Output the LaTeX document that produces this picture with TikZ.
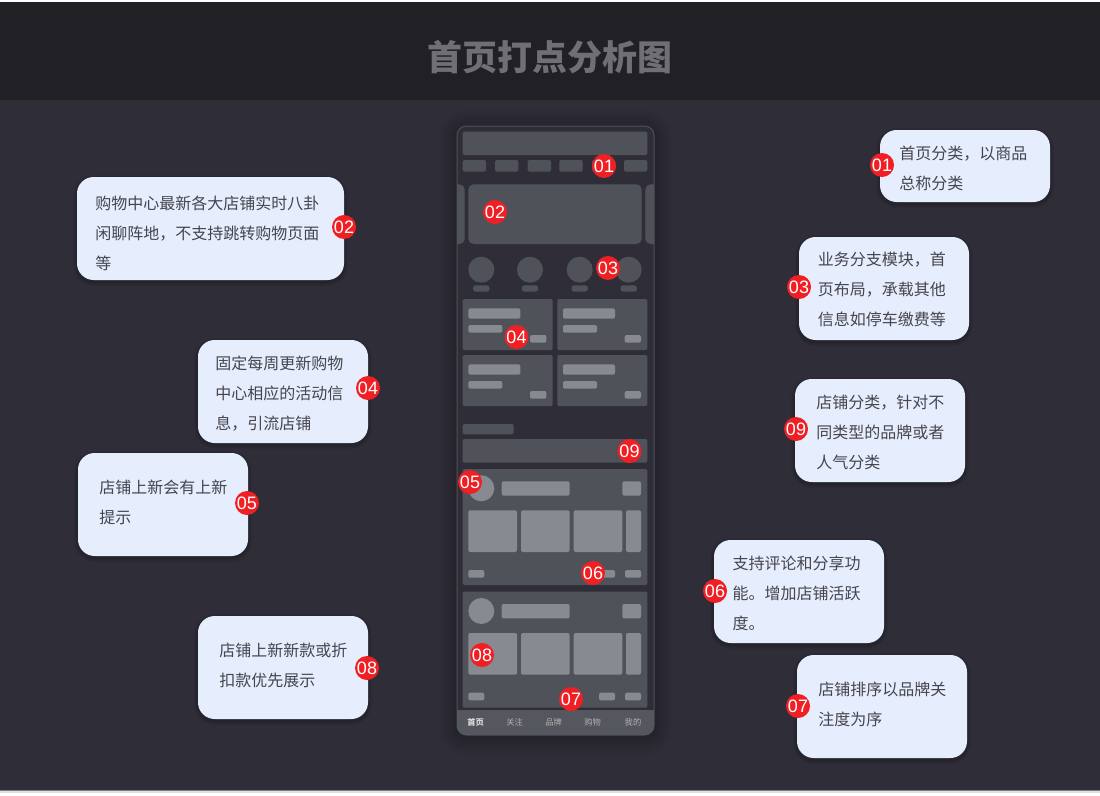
\documentclass[tikz,border=0pt]{standalone}
\usepackage{fontspec}
\usepackage{xcolor}
\setmainfont{Noto Sans CJK SC}
\newfontfamily\badgefont{Liberation Sans}
\usetikzlibrary{positioning}
\definecolor{pagebg}{HTML}{2F2E38}
\definecolor{headbg}{HTML}{212024}
\definecolor{titlegray}{HTML}{707074}
\definecolor{panel}{HTML}{50525A}
\definecolor{bar}{HTML}{888A92}
\definecolor{tabgray}{HTML}{55575E}
\definecolor{notefill}{HTML}{E6EDFD}
\definecolor{notetext}{HTML}{45454D}
\definecolor{badgered}{HTML}{F01F24}
\tikzset{
  softshadow/.style={
    preaction={draw=black,draw opacity=.03,line width=#1*1pt,transform canvas={yshift=-1.5pt}},
    preaction={draw=black,draw opacity=.03,line width=#1*.8pt,transform canvas={yshift=-1.5pt}},
    preaction={draw=black,draw opacity=.04,line width=#1*.6pt,transform canvas={yshift=-1.5pt}},
    preaction={draw=black,draw opacity=.04,line width=#1*.4pt,transform canvas={yshift=-1.5pt}},
    preaction={draw=black,draw opacity=.05,line width=#1*.2pt,transform canvas={yshift=-1.5pt}}},
  notebox/.style={rectangle, rounded corners=12.5pt, fill=notefill, inner sep=0pt, minimum width=127.5pt, minimum height=77.25pt, softshadow=6},
  notelabel/.style={anchor=west, text=notetext, inner sep=0pt, align=left, font=\fontsize{12}{22.5}\selectfont},
  badge/.style={circle, fill=badgered, text=white, minimum size=18pt, inner sep=0pt, font=\badgefont\fontsize{13.5}{14}\selectfont},
  panelbox/.style={fill=panel, rounded corners=1pt},
  barbox/.style={fill=bar, rounded corners=1.5pt},
  tablabel/.style={font=\fontsize{6.2}{7}\selectfont, text=#1, inner sep=0pt}
}
\begin{document}
\begin{tikzpicture}[x=0.75pt, y=-0.75pt]
\useasboundingbox (0,0) rectangle (1100,796);
% Page and header
\fill[white] (0,0) rectangle (1100,796);
\fill[black!12] (0,790) rectangle (1100,792.5);
\fill[black!50] (0,790) rectangle (1100,791);
\fill[pagebg] (0,2) rectangle (1100,790);
\fill[headbg] (0,2) rectangle (1100,100);
\node[text=titlegray, font=\fontsize{26.2}{30}\selectfont\bfseries, inner sep=0pt] (title) at (550,57) {首页打点分析图};

% Phone frame
\node[rectangle, rounded corners=7pt, fill=pagebg, draw=white!16!pagebg, line width=0.75pt, minimum width=147.75pt, minimum height=456.75pt, inner sep=0pt, softshadow=26] (phone) at (555.5,430.5) {};

% Top search bar and tabs
\fill[panelbox] (462.7,131.7) rectangle (647.3,155);
\foreach \x in {462.7,495,527.7,559.3,592,624}
  \fill[panelbox] (\x,160) rectangle +(23.3,11.5);

% Banner
\fill[panelbox, rounded corners=4pt] (468.3,184.3) rectangle (641.7,244);
\begin{scope}
  \clip[rounded corners=7pt] (457,126) rectangle (654,735);
  \fill[panelbox, rounded corners=4pt] (440,184.3) rectangle (464.7,244);
  \fill[panelbox, rounded corners=4pt] (645.3,184.3) rectangle (670,244);
  \fill[tabgray] (457,710) rectangle (654,735);
\end{scope}

% Round entries
\foreach \x in {481.3,530,579.7,628.7} {
  \fill[panel] (\x,269.7) circle (9.75pt);
  \fill[panelbox, rounded corners=2pt] (\x-8.2,285.3) rectangle (\x+8.2,291.7);
}

% Activity cards
\foreach \x/\y in {462.7/299,557.3/299,462.7/355,557.3/355} {
  \fill[panelbox] (\x,\y) rectangle +(90,51);
  \fill[barbox] (\x+5.7,\y+9.3) rectangle +(52,10.4);
  \fill[barbox] (\x+5.7,\y+26) rectangle +(34,7.7);
  \fill[barbox] (\x+67.3,\y+36) rectangle +(16.4,7.7);
}

% Section heading and category bar
\fill[panelbox] (462.7,424) rectangle (513.7,434.3);
\fill[panelbox] (462.7,439) rectangle (647.3,462.7);

% Store feeds
\foreach \y in {469,591.7} {
  \fill[panelbox] (462.7,\y) rectangle (647.3,\y+116);
  \fill[bar] (481.3,\y+19.3) circle (9.75pt);
  \fill[barbox] (501.7,\y+12.3) rectangle (569.7,\y+26.7);
  \fill[barbox] (622.3,\y+12.3) rectangle (641,\y+26.7);
  \foreach \x/\w in {468.3/48.7,521/48.7,573.7/48.6,626/15}
    \fill[barbox] (\x,\y+41.3) rectangle +(\w,41.7);
  \foreach \x in {468.3,599,625}
    \fill[barbox] (\x,\y+101) rectangle +(16,7.7);
}

% Bottom tab labels
\node[tablabel=white!85!black, font=\fontsize{6.2}{7}\selectfont\bfseries] (tabhome) at (475.7,722) {首页};
\node[tablabel=black!30] (tabfollow) at (514.7,722) {关注};
\node[tablabel=black!30] (tabbrand) at (553.7,722) {品牌};
\node[tablabel=black!30] (tabshop) at (592.7,722) {购物};
\node[tablabel=black!30] (tabmine) at (633,722) {我的};

% Badges on the phone
\node[badge] (p01) at (604,166) {01};
\node[badge] (p02) at (495,212) {02};
\node[badge] (p03) at (608,268) {03};
\node[badge] (p04) at (516.5,337) {04};
\node[badge] (p05) at (470,482) {05};
\node[badge] (p06) at (593,573) {06};
\node[badge] (p07) at (571,699) {07};
\node[badge] (p08) at (482,655) {08};
\node[badge] (p09) at (629.5,451) {09};

% Notes on the left
\node[notebox, minimum width=200.25pt] (note02) at (210.5,228.5) {};
\node[notelabel] (text02) at (95,233) {购物中心最新各大店铺实时八卦\\闲聊阵地，不支持跳转购物页面\\等};
\node[notebox] (note04) at (283,391.5) {};
\node[notelabel] (text04) at (215,393.5) {固定每周更新购物\\中心相应的活动信\\息，引流店铺};
\node[notebox] (note05) at (163,504.5) {};
\node[notelabel] (text05) at (99,502.5) {店铺上新会有上新\\提示};
\node[notebox] (note08) at (283,667.5) {};
\node[notelabel] (text08) at (219,665.5) {店铺上新新款或折\\扣款优先展示};

% Notes on the right
\node[notebox, minimum height=54pt] (note01) at (965,166) {};
\node[notelabel] (text01) at (899,168) {首页分类，以商品\\总称分类};
\node[notebox] (note03) at (884,288.5) {};
\node[notelabel] (text03) at (817.7,289.5) {业务分支模块，首\\页布局，承载其他\\信息如停车缴费等};
\node[notebox] (note09) at (880,430.5) {};
\node[notelabel] (text09) at (816,432.5) {店铺分类，针对不\\同类型的品牌或者\\人气分类};
\node[notebox] (note06) at (799,591.5) {};
\node[notelabel] (text06) at (732.3,593.5) {支持评论和分享功\\能。增加店铺活跃\\度。};
\node[notebox] (note07) at (882,706.5) {};
\node[notelabel] (text07) at (818,704.5) {店铺排序以品牌关\\注度为序};

% Badges on the notes
\node[badge] (n01) at (882,165) {01};
\node[badge] (n02) at (344,227) {02};
\node[badge] (n03) at (799,287) {03};
\node[badge] (n04) at (368,388) {04};
\node[badge] (n05) at (247,503) {05};
\node[badge] (n06) at (715,591) {06};
\node[badge] (n07) at (798,706) {07};
\node[badge] (n08) at (367,668) {08};
\node[badge] (n09) at (796,429) {09};
\end{tikzpicture}
\end{document}
